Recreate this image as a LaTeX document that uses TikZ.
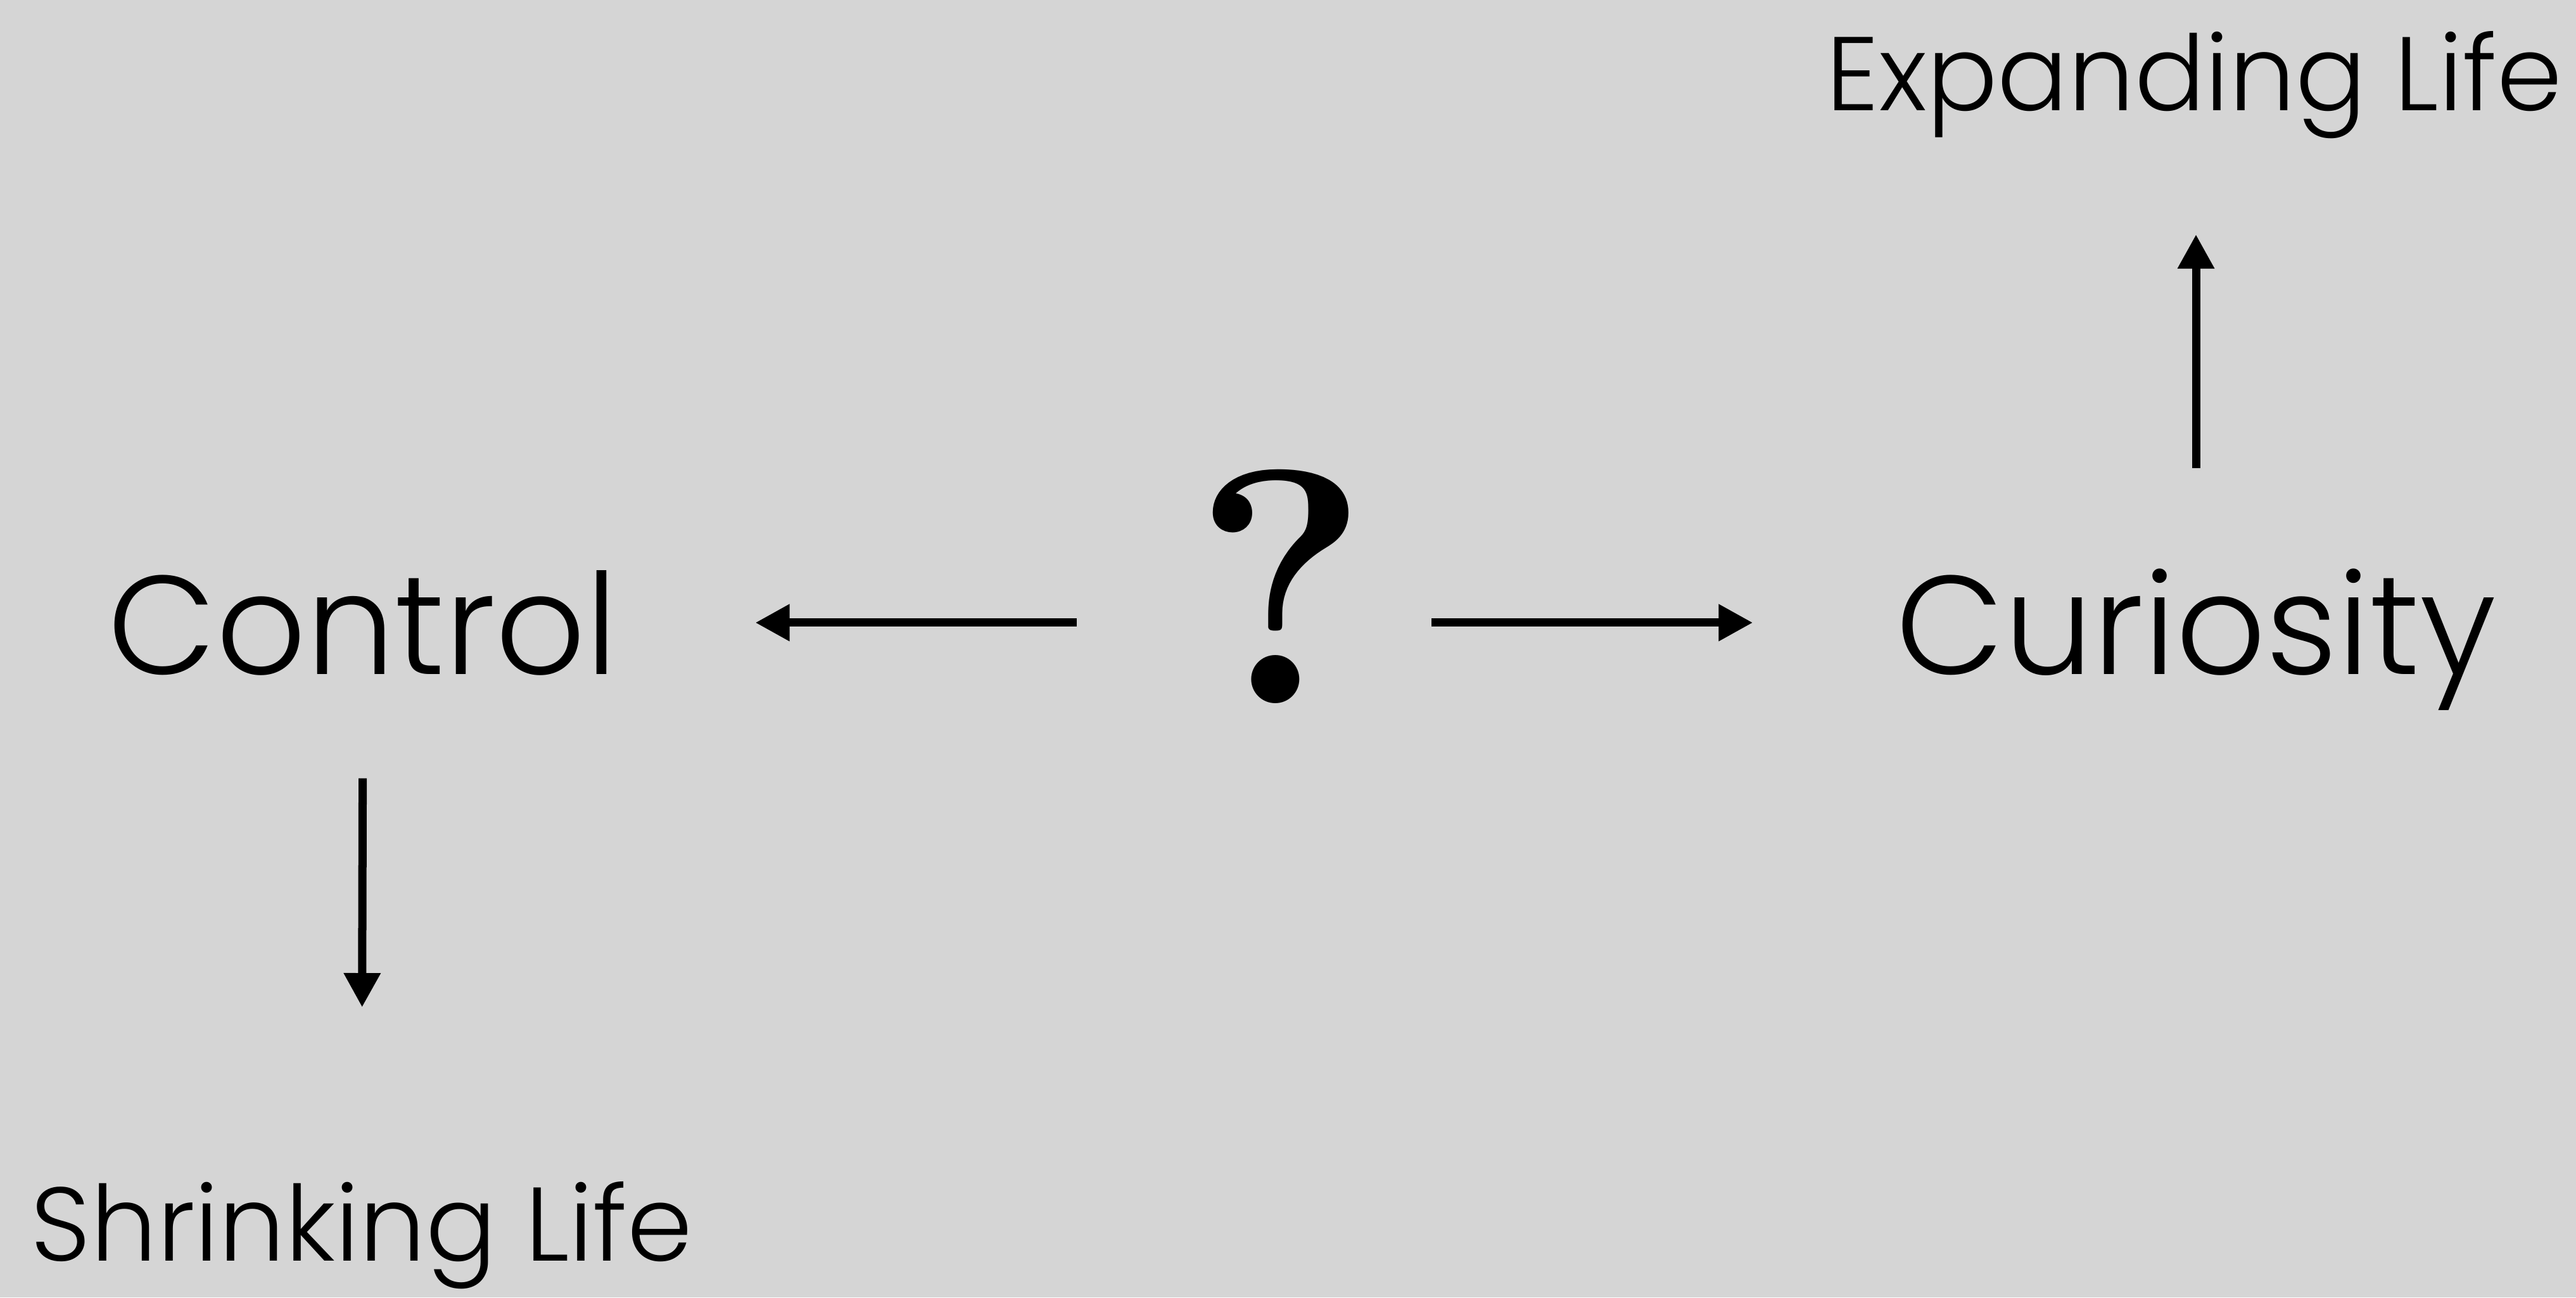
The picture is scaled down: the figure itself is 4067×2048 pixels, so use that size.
\documentclass[tikz,border=0pt]{standalone}
\usepackage{fontspec}
\setmainfont{Poppins}[UprightFont=* Light]
\newfontfamily\qfont{Latin Modern Roman}
\usetikzlibrary{arrows.meta}
\usetikzlibrary{calc}

\definecolor{bggrey}{RGB}{213,213,213}
\tikzset{
  word/.style={anchor=base, inner sep=0pt, font=\fontsize{63}{63}\selectfont},
  life/.style={anchor=base, inner sep=0pt, font=\fontsize{47}{47}\selectfont},
  arr/.style={-{Triangle[length=0.54cm,width=0.55cm]}, line width=0.13cm},
}

\begin{document}
\begin{tikzpicture}[x=0.01cm, y=-0.01cm]
			\useasboundingbox (0,0) rectangle (4067,2048);
			\fill[bggrey] (0,0) rectangle (4067,2048);

			\node[word] (ctrl) at (573,1064) {Control};
			\node[word] (cur) at (3467,1064) {Curiosity};
			\node[life] (exp) at (3464,174) {Expanding Life};
			\node[life] (shr) at (571,1990) {Shrinking Life};
			\node[anchor=base, inner sep=0pt, font=\qfont\bfseries\fontsize{150}{150}\selectfont] (q) at (2023,1110) {?};

			\draw[arr, shorten <=1.82cm, shorten >=2.16cm] (q.west |- ctrl) -- (ctrl.east);
			\draw[arr, shorten <=0.96cm, shorten >=2.25cm] (q.east |- ctrl) -- (cur.west |- ctrl);
			\draw[arr, shorten <=1.58cm, shorten >=1.51cm] (cur.north) -- (cur.north |- exp.south);
			\draw[arr, shorten <=1.62cm, shorten >=2.74cm] (ctrl.south) -- (shr.north);
		\end{tikzpicture}
\end{document}
